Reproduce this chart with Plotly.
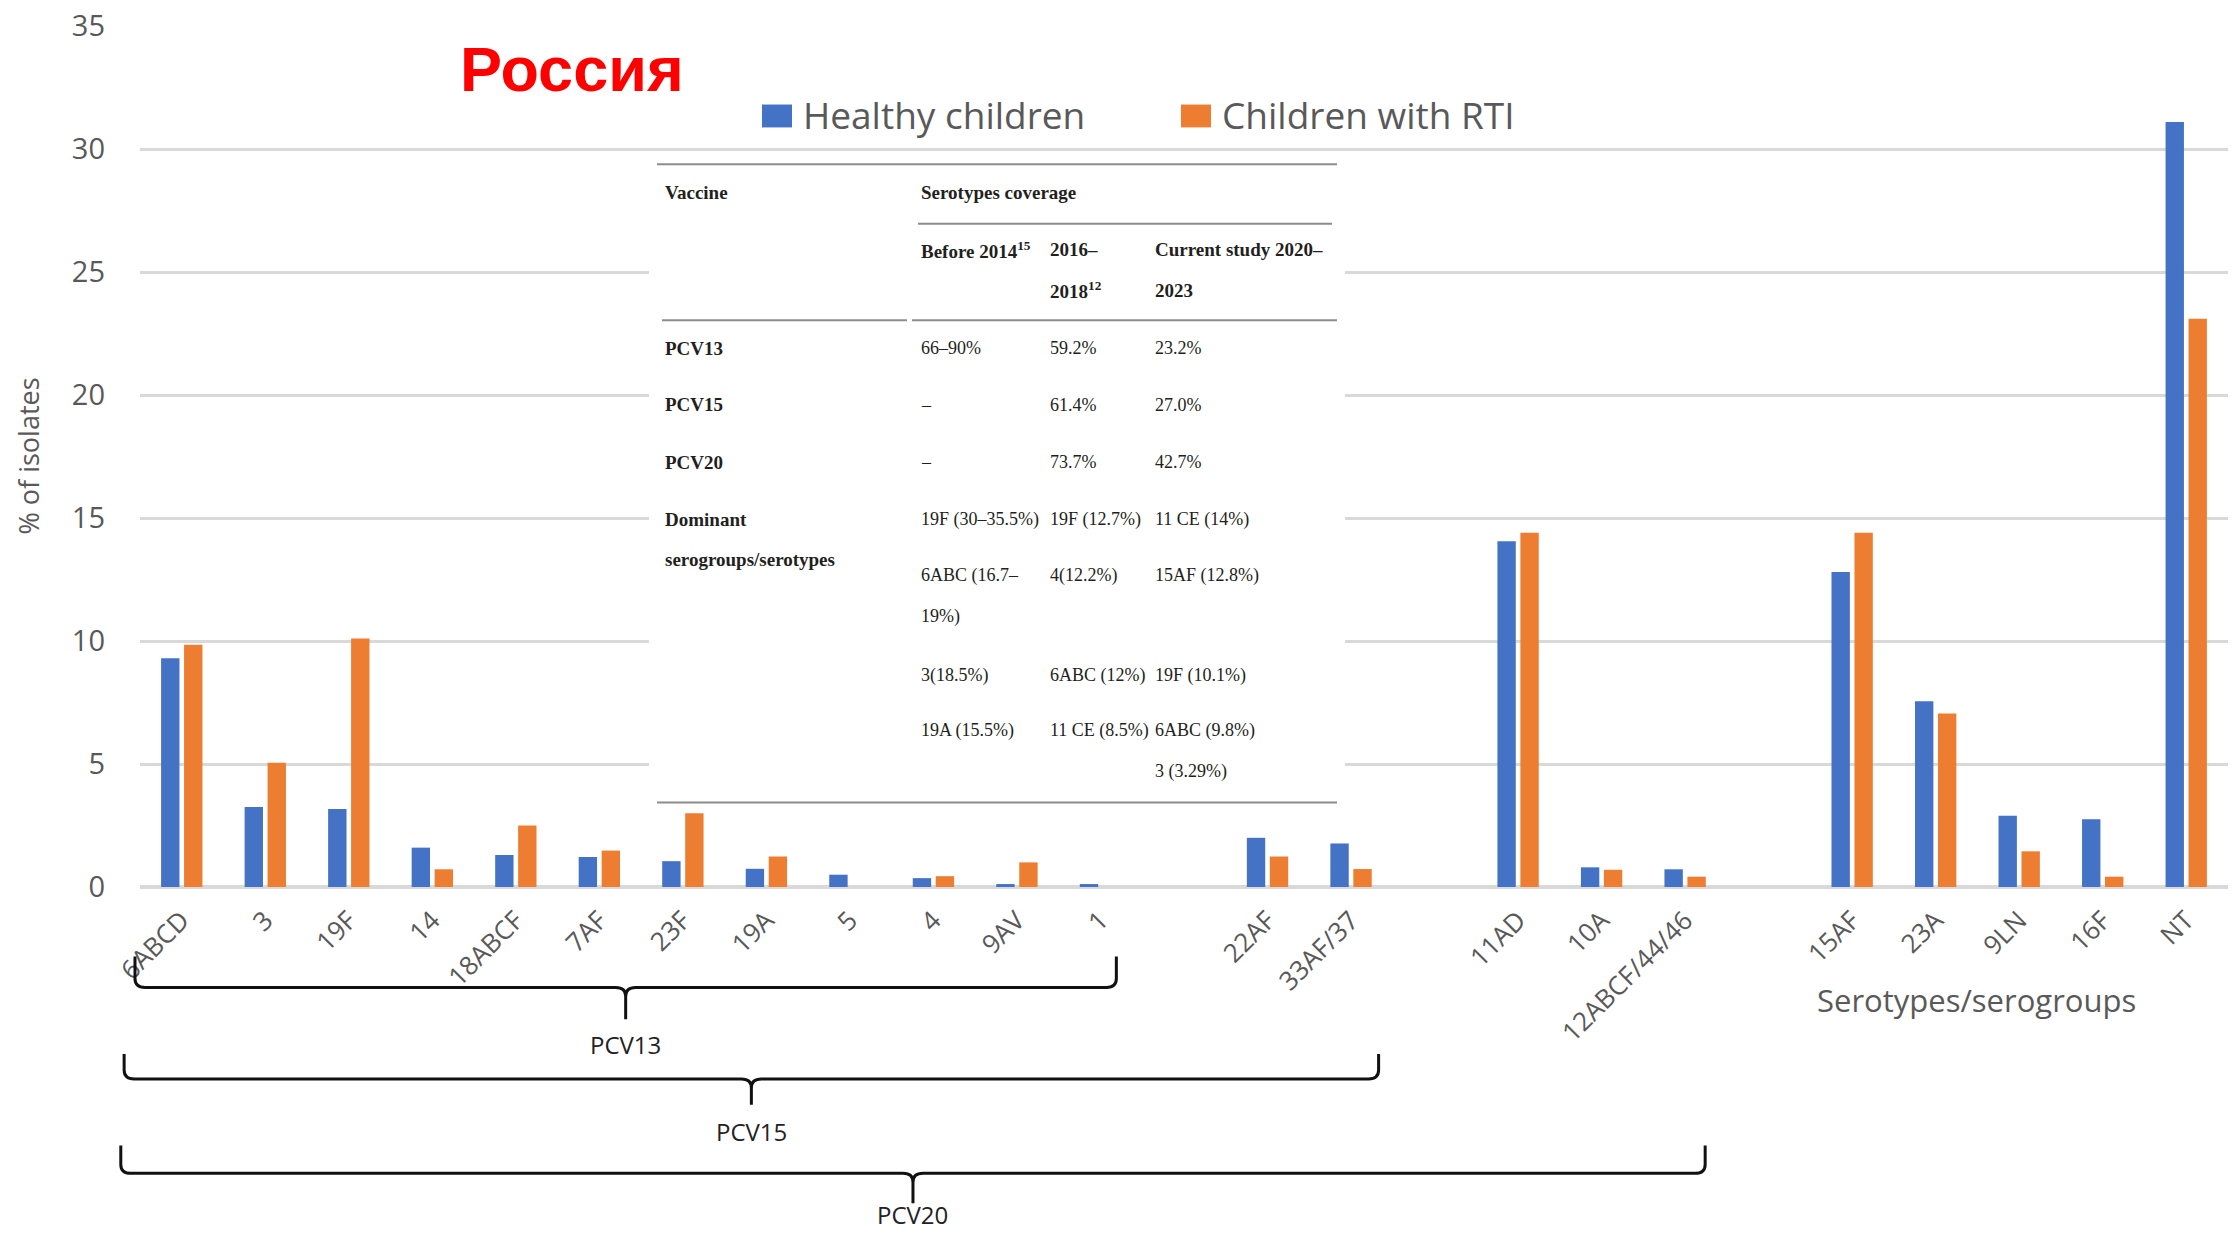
import plotly.graph_objects as go

# ---- data -------------------------------------------------------------
serotypes = ["6ABCD", "3", "19F", "14", "18ABCF", "7AF", "23F", "19A", "5", "4", "9AV", "1",
             "22AF", "33AF/37",
             "11AD", "10A", "12ABCF/44/46",
             "15AF", "23A", "9LN", "16F", "NT"]
healthy = [9.3, 3.25, 3.17, 1.6, 1.3, 1.22, 1.05, 0.74, 0.5, 0.36, 0.12, 0.12,
           2.0, 1.77,
           14.05, 0.8, 0.72,
           12.8, 7.55, 2.9, 2.75, 31.1]
rti = [9.85, 5.05, 10.1, 0.72, 2.5, 1.48, 3.0, 1.24, 0.0, 0.44, 1.0, 0.0,
       1.24, 0.73,
       14.4, 0.7, 0.42,
       14.4, 7.05, 1.45, 0.42, 23.1]
group_sizes = [12, 2, 3, 5]          # serotype blocks separated by an empty slot

vaccines = ["PCV13", "PCV15", "PCV20"]
vaccine_last_serotype = ["1", "33AF/37", "12ABCF/44/46"]

# coverage table
table_vaccines = ["PCV13", "PCV15", "PCV20"]
cov_before_2014 = ["66–90%", "–", "–"]
cov_2016_2018 = ["59.2%", "61.4%", "73.7%"]
cov_current = ["23.2%", "27.0%", "42.7%"]
dom_before_2014 = ["19F (30–35.5%)", "6ABC (16.7–\n19%)", "3(18.5%)", "19A (15.5%)"]
dom_2016_2018 = ["19F (12.7%)", "4(12.2%)", "6ABC (12%)", "11 CE (8.5%)"]
dom_current = ["11 CE (14%)", "15AF (12.8%)", "19F (10.1%)", "6ABC (9.8%)\n3 (3.29%)"]

# ---- positions on a numeric x axis (gap slot between blocks) -----------
x_pos = []
slot = 0
for n in group_sizes:
    for _ in range(n):
        x_pos.append(slot)
        slot += 1
    slot += 1
x_last = x_pos[-1]
X_RANGE = [-0.5, x_last + 0.5]

BLUE, ORANGE = "#4472C4", "#ED7D31"
GRAY_TXT = "#595959"
GRID = "#D9D9D9"

FIG_W, FIG_H = 2233, 1235
ML, MR, MT, MB = 140, 5, 21, 348
PW, PH = FIG_W - ML - MR, FIG_H - MT - MB


def fx(px):
    return (px - ML) / PW


def fy(py):
    return (FIG_H - MB - py) / PH


def data_to_paper_x(xv):
    return (xv - X_RANGE[0]) / (X_RANGE[1] - X_RANGE[0])


fig = go.Figure()
fig.add_trace(go.Bar(x=x_pos, y=healthy, name="Healthy children", marker_color=BLUE,
                     marker_line_width=0, showlegend=False))
fig.add_trace(go.Bar(x=x_pos, y=rti, name="Children with RTI", marker_color=ORANGE,
                     marker_line_width=0, showlegend=False))

shapes = []
annotations = []

# ---- legend drawn by hand ---------------------------------------------
for color, label, sx in [(BLUE, "Healthy children", 762), (ORANGE, "Children with RTI", 1181)]:
    shapes.append(dict(type="rect", xref="paper", yref="paper",
                       x0=fx(sx), x1=fx(sx + 30), y0=fy(123), y1=fy(100),
                       fillcolor=color, line_width=0, layer="above"))
    annotations.append(dict(text=label, xref="paper", yref="paper", x=fx(sx + 39), y=fy(110),
                            xanchor="left", yanchor="middle", showarrow=False,
                            font=dict(family="Open Sans", size=37, color=GRAY_TXT)))

# ---- title ------------------------------------------------------------
annotations.append(dict(text="<b>Россия</b>", xref="paper", yref="paper",
                        x=fx(458), y=fy(64), xanchor="left", yanchor="middle", showarrow=False,
                        font=dict(family="Liberation Sans", size=63, color="#FF0000")))

# ---- axis titles ------------------------------------------------------
annotations.append(dict(text="% of isolates", xref="paper", yref="paper", x=fx(28), y=fy(454),
                        xanchor="center", yanchor="middle", textangle=-90, showarrow=False,
                        font=dict(family="Open Sans", size=27, color=GRAY_TXT)))
annotations.append(dict(text="Serotypes/serogroups", xref="paper", yref="paper",
                        x=fx(1976), y=fy(1001), xanchor="center", yanchor="middle",
                        showarrow=False, font=dict(family="Open Sans", size=31, color=GRAY_TXT)))

# ---- vaccine braces under the axis (paper coords, so nothing is clipped) --
brace_geom = [  # left pad, right pad (slots); top, line, tip, label (pixels)
    (-0.56, 0.19, 957, 988, 1020, 1045),
    (-0.69, 0.33, 1055, 1080, 1106, 1133),
    (-0.73, 0.24, 1147, 1175, 1205, 1216),
]
for name, last, (lp, rp, yt, yl, ytip, ylab) in zip(vaccines, vaccine_last_serotype, brace_geom):
    x0 = data_to_paper_x(x_pos[0] + lp)
    x1 = data_to_paper_x(x_pos[serotypes.index(last)] + rp)
    xm = (x0 + x1) / 2
    rx, ry = 10 / PW, 9 / PH
    t, l, tip = fy(yt), fy(yl), fy(ytip)
    path = (f"M {x0},{t} L {x0},{l + ry} Q {x0},{l} {x0 + rx},{l} "
            f"L {xm - rx},{l} Q {xm},{l} {xm},{l - ry} L {xm},{tip} "
            f"M {xm},{l - ry} Q {xm},{l} {xm + rx},{l} "
            f"L {x1 - rx},{l} Q {x1},{l} {x1},{l + ry} L {x1},{t}")
    shapes.append(dict(type="path", path=path, xref="paper", yref="paper",
                       line=dict(color="#111111", width=3), layer="above"))
    annotations.append(dict(text=name, xref="paper", yref="paper", x=xm, y=fy(ylab),
                            xanchor="center", yanchor="middle", showarrow=False,
                            font=dict(family="Open Sans", size=24, color="#222222")))

# ---- coverage table panel ---------------------------------------------
shapes.append(dict(type="rect", xref="paper", yref="paper", x0=fx(649), x1=fx(1345),
                   y0=fy(806), y1=fy(151), fillcolor="white", line_width=0, layer="above"))
rule = dict(color="#8C8C8C", width=2)
for (a, b, y) in [(657, 1337, 160), (918, 1332, 220), (662, 907, 317), (912, 1337, 317),
                  (657, 1337, 802)]:
    shapes.append(dict(type="line", xref="paper", yref="paper", x0=fx(a), x1=fx(b),
                       y0=fy(y), y1=fy(y), line=rule, layer="above"))

COLS = [663, 919, 1048, 1153]
LINE_H = 41
TBL_FONT = "Liberation Serif"


def cell(text, col, y, bold=False, size=18):
    for k, part in enumerate(text.split("\n")):
        annotations.append(dict(text=f"<b>{part}</b>" if bold else part,
                                xref="paper", yref="paper", x=fx(COLS[col]),
                                y=fy(y + k * LINE_H), xanchor="left", yanchor="middle",
                                showarrow=False,
                                font=dict(family=TBL_FONT, size=size, color="#231F20")))


cell("Vaccine", 0, 188, bold=True, size=19)
cell("Serotypes coverage", 1, 188, bold=True, size=19)
cell("Before 2014<sup>15</sup>", 1, 246, bold=True, size=19)
cell("2016–\n2018<sup>12</sup>", 2, 246, bold=True, size=19)
cell("Current study 2020–\n2023", 3, 246, bold=True, size=19)

row_y = [345, 402, 460]
for i, y in enumerate(row_y):
    cell(table_vaccines[i], 0, y, bold=True, size=19)
    cell(cov_before_2014[i], 1, y)
    cell(cov_2016_2018[i], 2, y)
    cell(cov_current[i], 3, y)

cell("Dominant\nserogroups/serotypes", 0, 517, bold=True, size=19)
dom_y = [517, 574, 674, 730]
for i, y in enumerate(dom_y):
    cell(dom_before_2014[i], 1, y)
    cell(dom_2016_2018[i], 2, y)
    cell(dom_current[i], 3, y)

# ---- layout -----------------------------------------------------------
fig.update_layout(
    width=FIG_W, height=FIG_H, autosize=False,
    margin=dict(l=ML, r=MR, t=MT, b=MB, pad=0),
    paper_bgcolor="white", plot_bgcolor="white",
    barmode="group", bargap=0.45, bargroupgap=0.2,
    font=dict(family="Open Sans", color=GRAY_TXT),
    shapes=shapes, annotations=annotations,
    xaxis=dict(range=X_RANGE, tickmode="array", tickvals=x_pos,
               ticktext=serotypes, tickangle=-45, showgrid=False, zeroline=False,
               showline=False, ticks="", ticklabelstandoff=12,
               tickfont=dict(family="Open Sans", size=26, color=GRAY_TXT)),
    yaxis=dict(range=[0, 35], dtick=5, tick0=0, showgrid=True, gridcolor=GRID,
               gridwidth=3, zeroline=True, zerolinecolor=GRID, zerolinewidth=4,
               showline=False, ticks="", ticklabelstandoff=34,
               tickfont=dict(family="Open Sans", size=29, color=GRAY_TXT)),
)

fig.write_html("out.html", config={"displayModeBar": False})
